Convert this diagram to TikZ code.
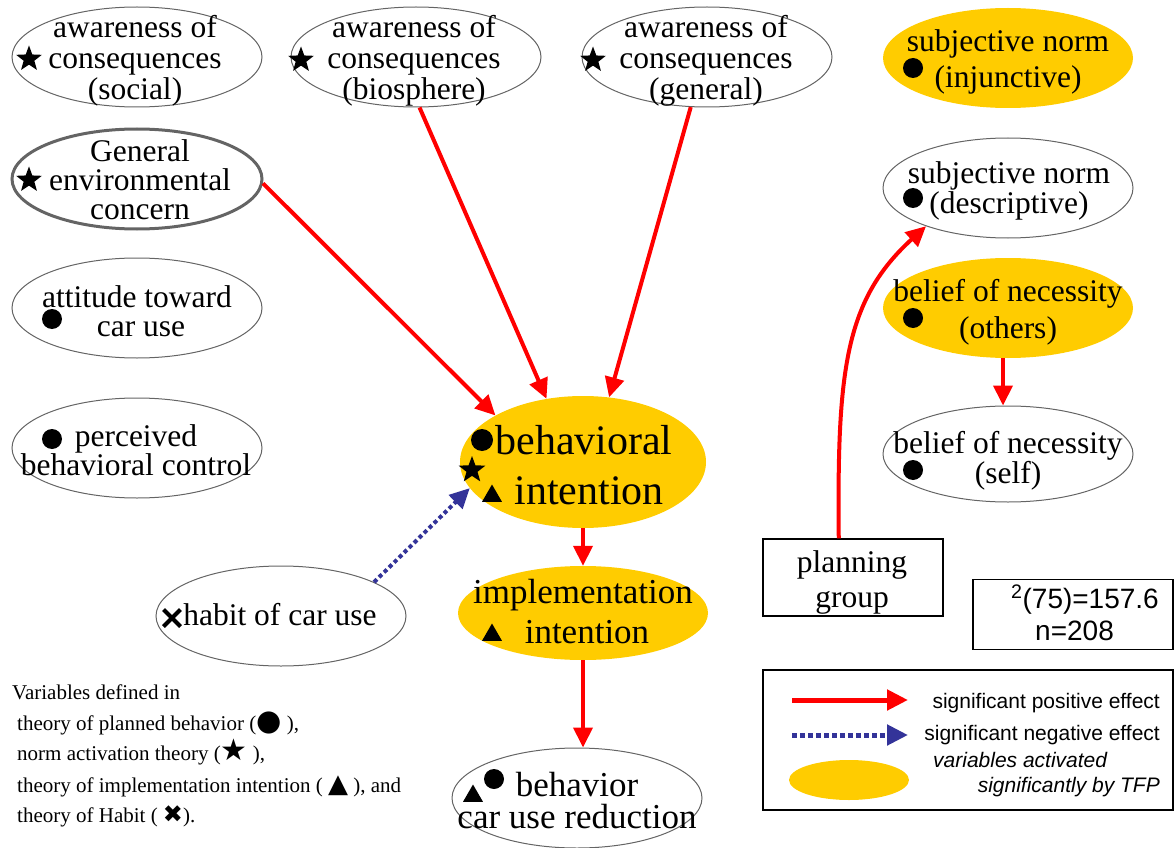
\documentclass[tikz,border=0pt]{standalone}
\usepackage{fontspec}
\setmainfont{Liberation Serif}
\newfontfamily\arialf{Liberation Sans}
\newfontfamily\symf{DejaVu Sans}
\usetikzlibrary{shapes.geometric,shapes.misc,arrows.meta,calc}
\definecolor{tfp}{RGB}{255,204,0}
\definecolor{posred}{RGB}{255,0,0}
\definecolor{negblue}{RGB}{51,51,153}
\definecolor{rim}{RGB}{100,100,100}
\newcommand\glyph[2]{{\symf\fontsize{#1}{#1}\selectfont #2}}
\begin{document}
\begin{tikzpicture}[x=1pt,y=-1pt,
  ell/.style={ellipse,draw=rim,line width=1pt,minimum width=250pt,minimum height=100pt,inner sep=0pt},
  yel/.style={ellipse,fill=tfp,minimum width=250pt,minimum height=100pt,inner sep=0pt},
  txt/.style={align=center,inner sep=0pt,font=\fontsize{31.5}{31}\selectfont},
  dotsym/.style={circle,fill=black,inner sep=0pt,minimum size=20pt},
  starsym/.style={star,star points=5,star point ratio=2.4,fill=black,inner sep=0pt,minimum size=27pt},
  trisym/.style={regular polygon,regular polygon sides=3,fill=black,inner sep=0pt,minimum size=23pt},
  xsym/.style={cross out,draw=black,line width=4pt,inner sep=0pt,minimum size=13pt},
  posarr/.style={draw=posred,line width=4pt,-{Triangle[length=20pt,width=19pt]}},
  negarr/.style={draw=negblue,line width=4pt,dash pattern=on 4pt off 3pt,-{Triangle[length=20pt,width=19pt]}},
  boxed/.style={draw=black,line width=1.2pt,inner sep=0pt},
  legtxt/.style={inner sep=0pt,font=\arialf\fontsize{21}{21}\selectfont},
  notetxt/.style={inner sep=0pt,anchor=base west,font=\fontsize{21}{21}\selectfont}
]
\useasboundingbox (0,0) rectangle (1176,848);

% ellipses
\node[ell] (aocs) at (137,57) {};
\node[ell] (aocb) at (416,57) {};
\node[ell] (aocg) at (707,57) {};
\node[yel] (sninj) at (1008,58) {};
\node[ell,line width=3pt] (gec) at (137,179) {};
\node[ell] (sndesc) at (1008,188) {};
\node[ell] (att) at (137,308) {};
\node[yel] (others) at (1008,308) {};
\node[ell] (pbc) at (137,448) {};
\node[ell,minimum height=96pt] (self) at (1008,454) {};
\node[yel,minimum width=246pt,minimum height=132pt] (bi) at (583,462) {};
\node[yel,minimum height=94pt] (impl) at (583,613) {};
\node[ell] (habit) at (281,616) {};
\node[ell] (beh) at (577,798) {};

% texts
\node[txt] (aocs-t) at (135,61) {awareness of\\consequences\\(social)};
\node[txt] (aocb-t) at (414,61) {awareness of\\consequences\\(biosphere)};
\node[txt] (aocg-t) at (706,61) {awareness of\\consequences\\(general)};
\node[txt,font=\fontsize{31.5}{36}\selectfont] (sninj-t) at (1008,62) {subjective norm\\(injunctive)};
\node[txt,font=\fontsize{31.5}{29}\selectfont] (gec-t) at (140,180) {General\\environmental\\concern};
\node[txt,font=\fontsize{31.5}{30}\selectfont] (sndesc-t) at (1009,191) {subjective norm\\(descriptive)};
\node[txt,font=\fontsize{31.5}{29}\selectfont] (att-t) at (137,311) {attitude toward\\\hspace*{8pt}car use};
\node[txt,font=\fontsize{31.5}{37}\selectfont] (others-t) at (1008,312) {belief of necessity\\(others)};
\node[txt,font=\fontsize{31.5}{29}\selectfont] (pbc-t) at (136,450) {perceived\\behavioral control};
\node[txt,font=\fontsize{31.5}{30}\selectfont] (self-t) at (1008,461) {belief of necessity\\(self)};
\node[txt,font=\fontsize{42}{50}\selectfont] (bi-t) at (584,465) {behavioral\\\hspace*{10pt}intention};
\node[txt,font=\fontsize{35}{40}\selectfont] (impl-t) at (583,612) {implementation\\\hspace*{8pt}intention};
\node[txt] (habit-t) at (280,615) {habit of car use};
\node[txt,font=\fontsize{35}{32}\selectfont] (beh-t) at (577,801) {behavior\\car use reduction};

% symbols
\node[starsym] (s-aocs) at (29,59) {};
\node[starsym] (s-aocb) at (301,60) {};
\node[starsym] (s-aocg) at (593,60) {};
\node[starsym] (s-gec) at (29,180) {};
\node[dotsym] (d-att) at (52,319) {};
\node[dotsym] (d-pbc) at (52,439) {};
\node[xsym] (x-habit) at (172,618) {};
\node[dotsym,minimum size=22pt] (d-bi) at (482,440) {};
\node[starsym,minimum size=28pt] (s-bi) at (472,470) {};
\node[trisym] (t-bi) at (492,496) {};
\node[trisym] (t-impl) at (492,635) {};
\node[dotsym] (d-beh) at (494,779) {};
\node[trisym] (t-beh) at (473,796) {};
\node[dotsym] (d-sninj) at (913,68) {};
\node[dotsym] (d-sndesc) at (913,198) {};
\node[dotsym] (d-others) at (913,318) {};
\node[dotsym] (d-self) at (913,470) {};

% boxes
\node[boxed,minimum width=180pt,minimum height=77pt] (plan) at (853,577.5) {};
\node[txt,font=\fontsize{31.5}{35}\selectfont] (plan-t) at (852,582) {planning\\group};
\node[boxed,minimum width=200pt,minimum height=70pt] (stats) at (1073,614.5) {};
\node[inner sep=0pt,anchor=base west,font=\arialf\fontsize{28}{28}\selectfont] (stats-1) at (1011,608) {\textsuperscript{2}(75)=157.6};
\node[inner sep=0pt,anchor=base west,font=\arialf\fontsize{28}{28}\selectfont] (stats-2) at (1035,640) {n=208};

% connectors
\draw[posarr] (gec.-2) -- (bi.152);
\draw[posarr] (aocb.-86) -- (bi.120);
\draw[posarr] (aocg.-108) -- (bi.68);
\draw[negarr] (habit.20) -- (bi.193);
\draw[posarr] (bi.south) -- (impl.north);
\draw[posarr] (impl.south) -- (impl.south |- beh.north);
\draw[posarr] ([xshift=-5pt]others.south) -- ([xshift=-5pt]self.north);
\draw[posarr] (plan.110) .. controls (837,370) and (845,300) .. (sndesc.205);

% legend
\node[boxed,minimum width=410pt,minimum height=140pt] (leg) at (968,740) {};
\coordinate (lp1) at (792,700);
\coordinate (lp2) at (908,700);
\coordinate (ln1) at (792,735);
\coordinate (ln2) at (908,735);
\draw[posarr,line width=5pt,-{Triangle[length=21pt,width=20pt]}] (lp1) -- (lp2);
\draw[negarr,line width=5pt,dash pattern=on 5pt off 3pt,-{Triangle[length=21pt,width=20pt]}] (ln1) -- (ln2);
\node[ellipse,fill=tfp,minimum width=120pt,minimum height=40pt,inner sep=0pt] (legell) at (849,780) {};
\node[legtxt,anchor=base east] (leg-1) at (1160,708) {significant positive effect};
\node[legtxt,anchor=base east] (leg-2) at (1160,740) {significant negative effect};
\node[legtxt,anchor=base west] (leg-3) at (933,767) {\itshape variables activated};
\node[legtxt,anchor=base east] (leg-4) at (1160,792) {\itshape significantly by TFP};

% note
\node[notetxt] (n1) at (12,699) {Variables defined in};
\node[notetxt] (n2) at (17,730) {theory of planned behavior (\glyph{29}{●} ),};
\node[notetxt] (n3) at (17,760) {norm activation theory (\glyph{30}{★} ),};
\node[notetxt] (n4) at (17,792) {theory of implementation intention ( \glyph{26}{▲} ), and};
\node[notetxt] (n5) at (17,822) {theory of Habit ( \glyph{24}{✖}).};
\end{tikzpicture}
\end{document}
